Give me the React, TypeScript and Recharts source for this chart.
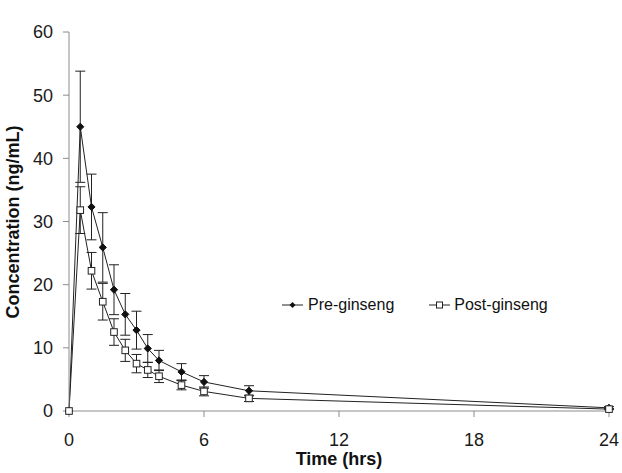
import { LineChart, Line, XAxis, YAxis, ErrorBar, Legend } from 'recharts'

/* ---------- data ---------- */

const times = [0, 0.5, 1, 1.5, 2, 2.5, 3, 3.5, 4, 5, 6, 8, 24]
const preMean = [0, 45.0, 32.3, 25.9, 19.2, 15.3, 12.8, 9.9, 8.0, 6.2, 4.6, 3.2, 0.5]
const preSD = [0, 8.8, 5.2, 5.5, 3.95, 3.3, 3.0, 2.2, 1.6, 1.3, 1.0, 0.8, 0.2]
const postMean = [0, 31.8, 22.2, 17.3, 12.5, 9.6, 7.5, 6.5, 5.5, 4.1, 3.1, 2.0, 0.3]
const postSD = [0, 3.7, 2.9, 2.9, 2.1, 1.75, 1.45, 1.2, 1.0, 0.75, 0.7, 0.5, 0.1]
const xTicks = [0, 6, 12, 18, 24]
const yTicks = [0, 10, 20, 30, 40, 50, 60]

const chartData = times.map((t, i) => ({
  t,
  pre: preMean[i],
  preErr: preSD[i],
  post: postMean[i],
  postErr: postSD[i],
}))

const FONT = 'Liberation Sans, Arial, sans-serif'
const AXIS = '#8c8c8c'

/* ---------- markers ---------- */

// eslint-disable-next-line @typescript-eslint/no-explicit-any
const Diamond = (props: any) => {
  const { cx, cy, index } = props
  if (cx == null || cy == null) return <g key={index} />
  const r = 3.6
  return (
    <path
      key={index}
      d={`M${cx},${cy - r}L${cx + r},${cy}L${cx},${cy + r}L${cx - r},${cy}Z`}
      fill="#111"
      stroke="#111"
    />
  )
}

// eslint-disable-next-line @typescript-eslint/no-explicit-any
const Square = (props: any) => {
  const { cx, cy, index } = props
  if (cx == null || cy == null) return <g key={index} />
  const s = 3.3
  return <rect key={index} x={cx - s} y={cy - s} width={2 * s} height={2 * s} fill="#fff" stroke="#222" strokeWidth={1} />
}

const LegendBox = () => (
  <div style={{ display: 'flex', alignItems: 'center', fontFamily: FONT, fontSize: 16, color: '#111', lineHeight: '20px' }}>
    <svg width={21} height={10} style={{ marginRight: 5 }}>
      <line x1={0} y1={5} x2={21} y2={5} stroke="#222" />
      <path d="M10.5,2L13.5,5L10.5,8L7.5,5Z" fill="#111" />
    </svg>
    <span style={{ marginRight: 35 }}>Pre-ginseng</span>
    <svg width={21} height={10} style={{ marginRight: 4 }}>
      <line x1={0} y1={5} x2={21} y2={5} stroke="#222" />
      <rect x={7.5} y={2} width={6} height={6} fill="#fff" stroke="#222" />
    </svg>
    <span>Post-ginseng</span>
  </div>
)

// eslint-disable-next-line @typescript-eslint/no-explicit-any
const YTitle = (_props: any) => (
  <text
    x={13}
    y={222}
    transform="rotate(-90, 13, 222)"
    textAnchor="middle"
    dominantBaseline="central"
    fontSize={18}
    fontWeight="bold"
    fill="#111"
    fontFamily={FONT}
  >
    Concentration (ng/mL)
  </text>
)

/* ---------- component ---------- */

export default function App() {
  return (
    <div style={{ position: 'absolute', left: 0, top: 0, width: 622, height: 473, background: '#fff' }}>
      <LineChart width={622} height={473} data={chartData} margin={{ top: 12, right: 13, left: 0, bottom: 0 }}>
        <XAxis
          dataKey="t"
          type="number"
          domain={[0, 24]}
          ticks={xTicks}
          stroke={AXIS}
          tickSize={6}
          tickMargin={16}
          tick={{ fontSize: 18, fill: '#1a1a1a', fontFamily: FONT }}
          height={62}
          label={{
            value: 'Time (hrs)',
            position: 'insideBottom',
            offset: 8,
            style: { fontSize: 18, fontWeight: 'bold', fill: '#111', fontFamily: FONT },
          }}
        />
        <YAxis
          type="number"
          domain={[0, 60]}
          ticks={yTicks}
          stroke={AXIS}
          tickSize={6}
          tickMargin={10}
          width={69}
          tick={{ fontSize: 18, fill: '#1a1a1a', fontFamily: FONT }}
          label={<YTitle />}
        />
        <Legend
          content={<LegendBox />}
          layout="horizontal"
          verticalAlign="top"
          align="left"
          wrapperStyle={{ left: 282, top: 295, width: 320 }}
        />
        <Line
          dataKey="pre"
          stroke="#222"
          strokeWidth={1}
          dot={Diamond}
          activeDot={false}
          isAnimationActive={false}
        >
          <ErrorBar dataKey="preErr" direction="y" width={5} stroke="#222" strokeWidth={1} />
        </Line>
        <Line
          dataKey="post"
          stroke="#222"
          strokeWidth={1}
          dot={Square}
          activeDot={false}
          isAnimationActive={false}
        >
          <ErrorBar dataKey="postErr" direction="y" width={5} stroke="#222" strokeWidth={1} />
        </Line>
      </LineChart>
    </div>
  )
}
